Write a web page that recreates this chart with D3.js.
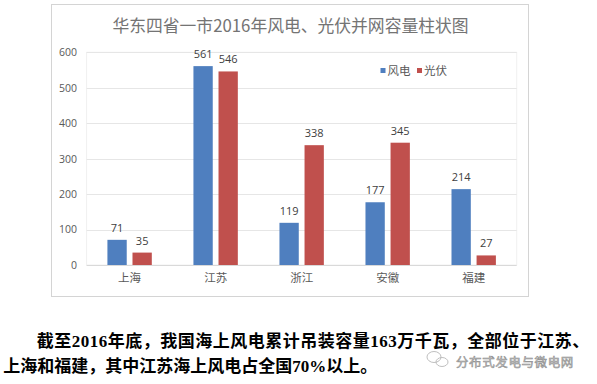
<!DOCTYPE html>
<html><head><meta charset="utf-8">
<script src="https://cdn.jsdelivr.net/npm/d3@7"></script>
<style>
html,body{margin:0;padding:0;background:#fff;}
svg{display:block;}
</style></head>
<body>
<script>
const categories = ["上海","江苏","浙江","安徽","福建"];
const seriesNames = ["风电","光伏"];
const windValues = [71, 561, 119, 177, 214];
const solarValues = [35, 546, 338, 345, 27];
const yTicks = [0,100,200,300,400,500,600];
const titleText = "华东四省一市2016年风电、光伏并网容量柱状图";
const noteLines = ["截至2016年底，我国海上风电累计吊装容量163万千瓦，全部位于江苏、","上海和福建，其中江苏海上风电占全国70%以上。"];
const watermark = "分布式发电与微电网";
const colors = ["#4f7fbf", "#c0504d"];

const W = 597, H = 384;
const svg = d3.select("body").append("svg").attr("width", W).attr("height", H);

// frame
svg.append("rect").attr("x", 51.5).attr("y", 4.5).attr("width", 477).attr("height", 292)
  .attr("fill", "#fff").attr("stroke", "#d4d4d4").attr("stroke-width", 1);

const plot = {l: 86.6, r: 516.7, t: 52.3, b: 265};
const y = d3.scaleLinear().domain([0, 600]).range([plot.b, plot.t]);
const x0 = d3.scaleBand().domain(categories).range([plot.l, plot.r]).paddingInner(0.484).paddingOuter(0.242);
const x1 = d3.scaleBand().domain(seriesNames).range([0, x0.bandwidth()]).paddingInner(0.23).paddingOuter(0);

// plot area border (faint)
svg.append("rect").attr("x", plot.l).attr("y", plot.t).attr("width", plot.r - plot.l).attr("height", plot.b - plot.t)
  .attr("fill", "none").attr("stroke", "#f0f0f0");

// gridlines
svg.append("g").selectAll("line").data(yTicks).join("line")
  .attr("x1", plot.l).attr("x2", plot.r)
  .attr("y1", d => Math.round(y(d)) + 0.5).attr("y2", d => Math.round(y(d)) + 0.5)
  .attr("stroke", d => d === 0 ? "#d9d9d9" : "#e6e6e6").attr("stroke-width", 1);

// y axis labels
const yAxis = d3.axisLeft(y).tickValues(yTicks).tickSize(0).tickPadding(0);
const yg = svg.append("g").attr("transform", `translate(${77},0)`).call(yAxis);
yg.select(".domain").remove();
yg.selectAll("text").attr("font-family", "'Open Sans', 'Noto Sans', sans-serif").attr("font-size", 10.5).attr("fill", "#595959");

// x axis labels
const xAxis = d3.axisBottom(x0).tickSize(0).tickPadding(0);
const xg = svg.append("g").attr("transform", `translate(0,${274})`).call(xAxis);
xg.select(".domain").remove();
xg.selectAll("text").attr("font-family", "'Noto Sans CJK SC', sans-serif").attr("font-size", 11.5).attr("fill", "#595959");

// bars
const data = categories.map((c, i) => ({cat: c, vals: [windValues[i], solarValues[i]]}));
const groups = svg.append("g").selectAll("g").data(data).join("g")
  .attr("transform", d => `translate(${x0(d.cat)},0)`);
groups.selectAll("rect").data(d => d.vals.map((v, j) => ({s: seriesNames[j], v, j}))).join("rect")
  .attr("x", d => x1(d.s)).attr("width", x1.bandwidth())
  .attr("y", d => y(d.v)).attr("height", d => y(0) - y(d.v))
  .attr("fill", d => colors[d.j]);
groups.selectAll("text").data(d => d.vals.map((v, j) => ({s: seriesNames[j], v, j}))).join("text")
  .attr("x", d => x1(d.s) + x1.bandwidth() / 2).attr("y", d => y(d.v) - 8)
  .attr("text-anchor", "middle").attr("font-family", "'Open Sans', 'Noto Sans', sans-serif")
  .attr("font-size", 11).attr("fill", "#404040").text(d => d.v);

// title
svg.append("text").attr("x", 290.5).attr("y", 32).attr("text-anchor", "middle")
  .attr("font-family", "'Noto Sans CJK SC', sans-serif").attr("font-size", 16.8)
  .attr("fill", "#747474").text(titleText);

// legend
const legX = [380.5, 417];
const lg = svg.append("g").selectAll("g").data(seriesNames).join("g")
  .attr("transform", (d, i) => `translate(${legX[i]},${70.5})`);
lg.append("rect").attr("x", 0).attr("y", -2.5).attr("width", 5).attr("height", 5).attr("fill", (d, i) => colors[i]);
lg.append("text").attr("x", 7).attr("y", 4).attr("font-family", "'Noto Sans CJK SC', sans-serif")
  .attr("font-size", 11.5).attr("fill", "#595959").text(d => d);

// note text
const noteX = [36.7, 3.3], noteY = [347, 372], noteSpacing = [0.5, 0];
svg.append("g").selectAll("text").data(noteLines).join("text")
  .attr("x", (d, i) => noteX[i]).attr("y", (d, i) => noteY[i])
  .attr("letter-spacing", (d, i) => noteSpacing[i])
  .attr("font-family", "'Liberation Serif', 'Noto Sans CJK SC', serif").attr("font-weight", "bold")
  .attr("font-size", 17).attr("fill", "#000").text(d => d);

// watermark icon
const ic = svg.append("g").attr("transform", "translate(437,359)").attr("fill", "none").attr("stroke", "#b8b8b8").attr("stroke-width", 0.9);
ic.append("ellipse").attr("cx", -3).attr("cy", -2).attr("rx", 7).attr("ry", 5.5);
ic.append("ellipse").attr("cx", 5).attr("cy", 3).attr("rx", 6).attr("ry", 4.5);
svg.append("text").attr("x", 456).attr("y", 366.5).attr("font-family", "'Noto Sans CJK SC', sans-serif")
  .attr("font-size", 12.5).attr("letter-spacing", 0.6).attr("fill", "#c8c8c8").attr("stroke", "#8c8c8c").attr("stroke-width", 0.5)
  .text(watermark);
</script>
</body></html>
